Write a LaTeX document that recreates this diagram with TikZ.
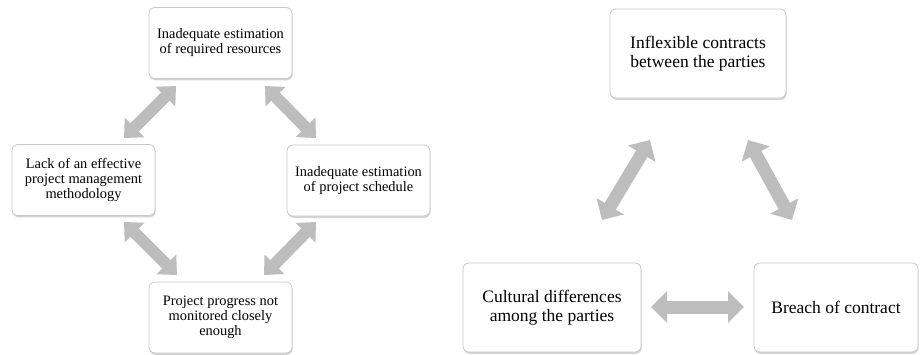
\documentclass[tikz,border=0pt]{standalone}
\usepackage{fontspec}
\setmainfont{Liberation Serif}
\usetikzlibrary{arrows.meta,shadows}
\definecolor{boxline}{HTML}{C8C8C8}
\definecolor{arrowgray}{HTML}{BDBDBD}
\tikzset{
  boxs/.style={draw=boxline, line width=0.8pt, fill=white, rounded corners=6pt,
    drop shadow={opacity=0.35, shadow xshift=0.6pt, shadow yshift=-1.8pt},
    align=center, inner sep=2pt},
  smallbox/.style={boxs, minimum width=143pt, minimum height=71pt,
    font=\fontsize{14.4}{15}\selectfont},
  bigbox/.style={boxs, minimum height=89pt,
    font=\fontsize{17.5}{18.5}\selectfont},
  fatarrow/.style={draw=arrowgray, line width=12pt,
    {Triangle[length=15pt,width=27pt]}-{Triangle[length=15pt,width=27pt]}},
  bigarrow/.style={draw=arrowgray, line width=13pt,
    {Triangle[length=16pt,width=31pt]}-{Triangle[length=16pt,width=31pt]}}
}
\begin{document}
\begin{tikzpicture}[x=1pt,y=-1pt]
\useasboundingbox (0,0) rectangle (921,354);
% left diagram
\node[smallbox] (res) at (220.5,43) {Inadequate estimation\\of required resources};
\node[smallbox] (lack) at (83.5,180) {Lack of an effective\\project management\\methodology};
\node[smallbox] (sched) at (358.5,180.5) {Inadequate estimation\\of project schedule};
\node[smallbox] (prog) at (220.5,317.5) {Project progress not\\monitored closely\\enough};
\coordinate (a1s) at (176,86);  \coordinate (a1e) at (124,138);
\coordinate (a2s) at (265,86);  \coordinate (a2e) at (316,138);
\coordinate (a3s) at (124,222); \coordinate (a3e) at (177,275);
\coordinate (a4s) at (316,222); \coordinate (a4e) at (264,275);
\draw[fatarrow] (a1s) -- (a1e);
\draw[fatarrow] (a2s) -- (a2e);
\draw[fatarrow] (a3s) -- (a3e);
\draw[fatarrow] (a4s) -- (a4e);
% right diagram
\node[bigbox, minimum width=176pt] (infl) at (698,53.5) {Inflexible contracts\\between the parties};
\node[bigbox, minimum width=178pt] (cult) at (552,307.5) {Cultural differences\\among the parties};
\node[bigbox, minimum width=164pt] (breach) at (836,307.5) {Breach of contract};
\coordinate (b1s) at (650,140); \coordinate (b1e) at (602,220);
\coordinate (b2s) at (748,140); \coordinate (b2e) at (792,220);
\coordinate (b3s) at (651,307); \coordinate (b3e) at (744,307);
\draw[bigarrow] (b1s) -- (b1e);
\draw[bigarrow] (b2s) -- (b2e);
\draw[bigarrow] (b3s) -- (b3e);
\end{tikzpicture}
\end{document}
